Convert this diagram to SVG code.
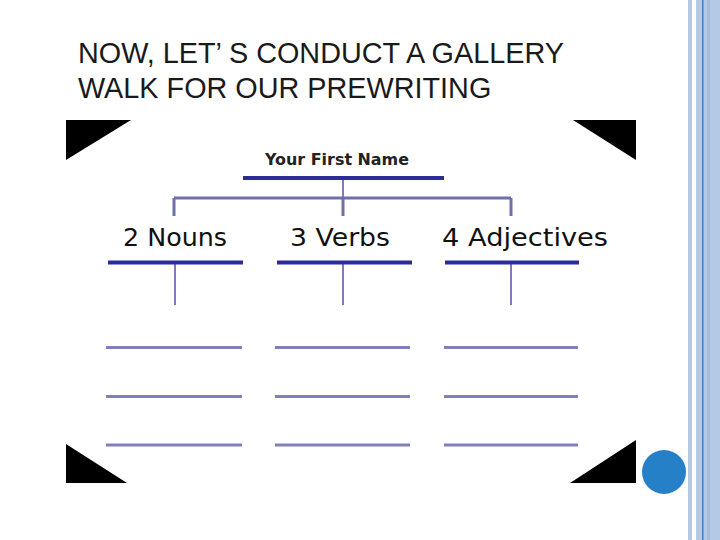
<svg xmlns="http://www.w3.org/2000/svg" width="720" height="540" viewBox="0 0 720 540">
<defs>
<style>
.title{font-family:"Liberation Sans",Arial,sans-serif;font-size:28.8px;fill:#1a1a1a}
.lbl{font-family:"DejaVu Sans",sans-serif;font-size:25px;fill:#111}
.root{font-family:"DejaVu Sans",sans-serif;font-weight:bold;font-size:15px;fill:#222}
.main{stroke:#2b2b9a;stroke-width:4;fill:none}
.bar{stroke:#7070a8;stroke-width:3;fill:none}
.drop{stroke:#7c7cba;stroke-width:2;fill:none}
.wl{stroke:#8080bb;stroke-width:3;fill:none}
.tri{fill:#000}
</style>
</defs>
<rect width="720" height="540" fill="#fff"/>
<!-- right border -->
<rect x="688" y="0" width="4" height="540" fill="#b5c9e2"/>
<rect x="696" y="0" width="24" height="540" fill="#b4c9e6"/>
<rect x="707" y="0" width="3" height="540" fill="#a6bdda"/>
<rect x="702" y="0" width="1.5" height="540" fill="#4a7cc0"/>
<circle cx="664" cy="472" r="22" fill="#2580c8"/>
<g id="title">
<text class="title" x="78" y="63">NOW, LET’ S CONDUCT A GALLERY</text>
<text class="title" x="78" y="98">WALK FOR OUR PREWRITING</text>
</g>
<g id="corners">
<polygon class="tri" points="66,120 131,120 66,160"/>
<polygon class="tri" points="573,120 636,120 636,160"/>
<polygon class="tri" points="66,444 66,483 127,483"/>
<polygon class="tri" points="570,483 636,483 636,440"/>
</g>
<g id="connectors">
<path class="drop" d="M343,179 V198"/>
<path class="bar" d="M174,198 H511 M174,198 V216 M343,198 V216 M511,198 V216"/>
<path class="drop" d="M175,263 V305 M343,263 V305 M511,263 V305"/>
</g>
<g id="root">
<text class="root" x="265" y="165" textLength="144" lengthAdjust="spacingAndGlyphs">Your First Name</text>
<line class="main" x1="243" y1="178" x2="444" y2="178"/>
</g>
<g id="nouns">
<text class="lbl" x="123" y="246" textLength="104" lengthAdjust="spacingAndGlyphs">2 Nouns</text>
<line class="main" x1="108" y1="262.5" x2="243" y2="262.5"/>
<line class="wl" x1="106" y1="347.5" x2="242" y2="347.5"/>
<line class="wl" x1="106" y1="396.5" x2="242" y2="396.5"/>
<line class="wl" x1="106" y1="445" x2="242" y2="445"/>
</g>
<g id="verbs">
<text class="lbl" x="290" y="246" textLength="100" lengthAdjust="spacingAndGlyphs">3 Verbs</text>
<line class="main" x1="277" y1="262.5" x2="412" y2="262.5"/>
<line class="wl" x1="275" y1="347.5" x2="410" y2="347.5"/>
<line class="wl" x1="275" y1="396.5" x2="410" y2="396.5"/>
<line class="wl" x1="275" y1="445" x2="410" y2="445"/>
</g>
<g id="adjectives">
<text class="lbl" x="442" y="246" textLength="166" lengthAdjust="spacingAndGlyphs">4 Adjectives</text>
<line class="main" x1="445" y1="262.5" x2="579" y2="262.5"/>
<line class="wl" x1="444" y1="347.5" x2="578" y2="347.5"/>
<line class="wl" x1="444" y1="396.5" x2="578" y2="396.5"/>
<line class="wl" x1="444" y1="445" x2="578" y2="445"/>
</g>
</svg>
